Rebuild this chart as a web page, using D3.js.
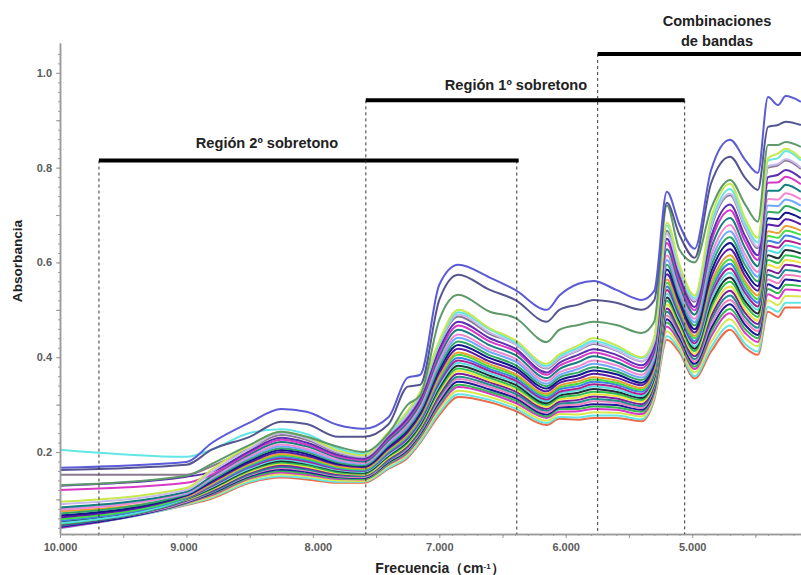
<!DOCTYPE html>
<html>
<head>
<meta charset="utf-8">
<script src="https://cdnjs.cloudflare.com/ajax/libs/d3/7.8.5/d3.min.js"></script>
<style>
  body { margin: 0; background: #fff; }
  text { font-family: "Liberation Sans", Arial, sans-serif; }
</style>
</head>
<body>
<div id="chart"></div>
<script>
var wavenumbers = [10000,9000,8800,8500,8250,8050,7800,7600,7400,7250,7150,7000,6850,6600,6400,6150,6050,5900,5780,5600,5400,5300,5200,5100,4980,4850,4700,4580,4480,4400,4320,4260,4140];

var spectra = [
  [.042,.088,.102,.135,.146,.142,.135,.135,.165,.188,.220,.278,.316,.305,.287,.257,.270,.268,.272,.272,.265,.310,.437,.410,.355,.412,.458,.420,.405,.496,.485,.505,.505],
  [.039,.089,.104,.137,.149,.145,.137,.137,.167,.191,.223,.283,.322,.310,.292,.261,.274,.273,.277,.277,.269,.314,.445,.416,.360,.421,.467,.428,.412,.506,.496,.515,.515],
  [.041,.091,.106,.141,.153,.149,.140,.139,.171,.195,.228,.290,.329,.316,.298,.266,.280,.279,.284,.283,.275,.319,.455,.423,.368,.432,.480,.440,.423,.520,.510,.529,.528],
  [.040,.092,.109,.144,.157,.152,.143,.142,.174,.199,.232,.296,.337,.323,.304,.272,.285,.286,.291,.289,.280,.325,.465,.431,.375,.444,.493,.451,.432,.533,.524,.543,.541],
  [.045,.093,.111,.146,.160,.155,.145,.143,.176,.202,.235,.301,.342,.327,.309,.275,.290,.291,.296,.294,.285,.329,.473,.437,.380,.453,.502,.459,.440,.544,.535,.553,.550],
  [.042,.094,.113,.149,.163,.158,.147,.145,.179,.205,.239,.306,.348,.332,.314,.279,.294,.296,.301,.299,.289,.333,.480,.442,.386,.461,.512,.468,.447,.554,.545,.564,.560],
  [.050,.095,.115,.151,.166,.161,.149,.147,.181,.208,.242,.311,.354,.337,.318,.283,.298,.300,.307,.304,.293,.337,.488,.448,.391,.470,.521,.476,.455,.564,.556,.574,.570],
  [.044,.097,.116,.153,.169,.163,.151,.149,.183,.211,.245,.316,.359,.342,.323,.287,.302,.305,.312,.308,.297,.341,.496,.454,.396,.479,.530,.484,.462,.574,.567,.584,.580],
  [.046,.098,.118,.156,.172,.166,.153,.151,.186,.214,.249,.321,.365,.347,.328,.291,.306,.310,.317,.313,.301,.345,.503,.459,.402,.487,.540,.493,.470,.584,.577,.595,.590],
  [.060,.099,.120,.158,.175,.169,.155,.152,.188,.217,.252,.326,.371,.351,.333,.295,.311,.315,.322,.318,.306,.349,.511,.465,.407,.496,.549,.501,.477,.595,.588,.605,.599],
  [.048,.100,.122,.161,.178,.172,.157,.154,.191,.220,.255,.331,.376,.356,.337,.299,.315,.320,.327,.323,.310,.353,.519,.471,.413,.505,.559,.510,.485,.605,.599,.615,.609],
  [.052,.101,.124,.163,.181,.175,.160,.156,.193,.223,.258,.336,.382,.361,.342,.303,.319,.325,.333,.327,.314,.357,.526,.477,.418,.513,.568,.518,.492,.615,.609,.626,.619],
  [.050,.102,.126,.165,.184,.177,.162,.158,.195,.226,.262,.341,.388,.366,.347,.307,.323,.330,.338,.332,.318,.361,.534,.482,.423,.522,.578,.526,.500,.625,.620,.636,.629],
  [.065,.103,.128,.168,.187,.180,.164,.160,.198,.229,.265,.346,.393,.371,.351,.311,.327,.334,.343,.337,.322,.365,.542,.488,.429,.531,.587,.535,.507,.635,.631,.646,.638],
  [.055,.104,.130,.170,.190,.183,.166,.161,.200,.232,.268,.351,.399,.375,.356,.315,.332,.339,.348,.342,.327,.369,.549,.494,.434,.540,.597,.543,.515,.646,.641,.657,.648],
  [.058,.105,.132,.173,.193,.186,.168,.163,.203,.235,.272,.356,.405,.380,.361,.319,.336,.344,.353,.346,.331,.373,.557,.499,.440,.548,.606,.552,.522,.656,.652,.667,.658],
  [.075,.106,.133,.175,.196,.189,.170,.165,.205,.238,.275,.360,.410,.385,.365,.323,.340,.349,.358,.351,.335,.377,.564,.505,.445,.557,.615,.560,.530,.666,.662,.677,.667],
  [.062,.108,.136,.178,.200,.192,.173,.168,.208,.242,.279,.367,.418,.391,.372,.328,.346,.355,.365,.357,.341,.383,.575,.513,.452,.569,.628,.571,.540,.680,.677,.691,.680],
  [.066,.109,.139,.181,.204,.196,.175,.170,.211,.246,.284,.374,.426,.398,.378,.334,.351,.362,.372,.364,.346,.388,.585,.520,.459,.580,.641,.582,.550,.693,.691,.705,.693],
  [.070,.111,.141,.185,.208,.200,.178,.172,.215,.250,.288,.380,.433,.404,.384,.339,.357,.368,.379,.370,.352,.394,.595,.528,.467,.592,.653,.594,.560,.707,.705,.719,.707],
  [.080,.112,.144,.188,.212,.203,.181,.175,.218,.254,.293,.387,.441,.411,.391,.344,.362,.375,.386,.376,.357,.399,.605,.535,.474,.603,.666,.605,.570,.720,.719,.733,.720],
  [.078,.114,.146,.191,.216,.207,.184,.177,.221,.258,.297,.394,.448,.417,.397,.350,.368,.381,.393,.383,.363,.404,.615,.543,.481,.615,.679,.616,.580,.734,.733,.746,.733],
  [.083,.116,.149,.195,.221,.212,.188,.180,.225,.263,.303,.402,.458,.425,.405,.356,.375,.390,.402,.390,.370,.411,.628,.552,.490,.630,.694,.630,.592,.751,.751,.764,.749],
  [.120,.135,.152,.199,.226,.216,.191,.183,.229,.268,.308,.410,.467,.433,.413,.363,.382,.398,.410,.398,.377,.418,.641,.562,.499,.644,.710,.644,.605,.768,.769,.781,.765],
  [.129,.148,.158,.202,.230,.220,.194,.186,.232,.272,.312,.417,.475,.440,.418,.368,.388,.405,.417,.405,.383,.423,.650,.570,.506,.654,.722,.655,.615,.780,.785,.795,.778],
  [.152,.152,.170,.207,.236,.226,.198,.189,.237,.278,.319,.427,.486,.449,.428,.376,.396,.414,.428,.414,.391,.432,.667,.581,.517,.673,.742,.672,.630,.800,.805,.815,.797],
  [.090,.120,.158,.207,.240,.229,.200,.190,.238,.280,.321,.428,.490,.452,.428,.378,.398,.415,.430,.415,.392,.433,.660,.583,.520,.677,.745,.675,.633,.803,.808,.818,.800],
  [.205,.190,.205,.240,.248,.238,.207,.196,.240,.285,.325,.430,.495,.458,.432,.382,.402,.420,.434,.420,.398,.439,.678,.590,.525,.682,.755,.682,.642,.815,.820,.835,.815],
  [.095,.124,.163,.213,.243,.232,.203,.193,.243,.287,.327,.435,.500,.461,.436,.386,.406,.425,.440,.425,.400,.441,.684,.595,.530,.694,.766,.692,.652,.820,.830,.840,.820],
  [.130,.150,.175,.215,.243,.232,.211,.200,.240,.300,.320,.479,.532,.496,.483,.432,.458,.468,.475,.468,.451,.475,.720,.627,.600,.714,.774,.722,.686,.848,.848,.854,.844],
  [.162,.173,.205,.232,.264,.259,.232,.232,.259,.338,.342,.521,.574,.542,.521,.475,.500,.511,.521,.515,.500,.520,.726,.658,.610,.767,.823,.778,.753,.886,.890,.897,.890],
  [.167,.179,.219,.262,.291,.285,.257,.249,.274,.357,.363,.553,.595,.568,.542,.500,.530,.555,.561,.542,.521,.540,.749,.679,.629,.795,.859,.816,.789,.949,.932,.951,.939]
];

var colours = ["#ee6a4a","#63e6e6","#d8e84a","#d838c8","#35b84f","#1a1a9a","#f080c0","#1f8f8f","#7a1fa0","#f0e040","#2fbf4f","#20303a","#55dde0","#b01f90","#3f7fe8","#44dd44","#e8a030","#5a1aa8","#14148c","#30a860","#6fa8ff","#f08ad0","#128080","#d838c8","#5c2fb0","#8a7a90","#c9b8f0","#63e6e6","#c7e84f","#5f9a6a","#55558f","#5b5bd6"];

var yTicks = [0.2,0.4,0.6,0.8,1.0];
var xTicks = [10000,9000,8000,7000,6000,5000];

// name, wavenumber range, absorbance height of the black bar
var regionNames = ["Región 2º sobretono","Región 1º sobretono","Combinaciones de bandas"];
var regionFrom = [9692,7581,5747];
var regionTo = [6387,5059,4139];
var regionBarTo = [6372,5059,4139];
var regionLevel = [0.815,0.942,1.04];

var width = 801,
    height = 575;

var svg = d3.select("#chart")
    .append("svg")
    .attr("width", width)
    .attr("height", height)
    .style("display", "block");

var x = d3.scaleLinear().domain([10000,4139]).range([60,801]);
var y = d3.scaleLinear().domain([0.027,1.063]).range([534,43]);

var line = d3.line()
    .x(function(d,i){ return x(wavenumbers[i]); })
    .y(function(d){ return y(d); })
    .curve(d3.curveMonotoneX);

// spectra
svg.append("g")
    .style("filter", "blur(0.6px)")
    .selectAll("path")
    .data(spectra)
    .enter().append("path")
    .attr("d", line)
    .attr("fill", "none")
    .attr("stroke", function(d,i){ return colours[i]; })
    .attr("stroke-width", 2);

// axes
var dotted = d3.formatLocale({decimal:",", thousands:".", grouping:[3], currency:["",""]}).format(",");

function styleAxis(g) {
    g.selectAll("path, line").attr("stroke", "#9a9a9a");
    g.select(".domain").attr("stroke-width", 1.5);
    g.selectAll("text")
        .attr("fill", "#5c5c5c")
        .style("font-size", "11px")
        .style("font-weight", "bold");
}

var minorX = d3.range(10000,4100,-100);
var minorY = d3.range(0.04,1.06,0.02);

svg.append("g")
    .attr("transform", "translate(0,534)")
    .call(d3.axisBottom(x).tickValues(minorX).tickSize(2).tickFormat("").tickSizeOuter(0))
    .call(styleAxis);
svg.append("g")
    .attr("transform", "translate(0,534)")
    .call(d3.axisBottom(x).tickValues(d3.range(10000,4100,-500)).tickSize(4).tickFormat(function(d){ return xTicks.indexOf(d) < 0 ? "" : dotted(d); }).tickSizeOuter(0))
    .call(styleAxis)
    .selectAll("text")
    .attr("y", 9)
    .attr("dx", function(d){ return d == 9000 ? -3 : d == 8000 ? 5 : 0; });

svg.append("g")
    .attr("transform", "translate(60,0)")
    .call(d3.axisLeft(y).tickValues(minorY).tickSize(2).tickFormat("").tickSizeOuter(0))
    .call(styleAxis);
svg.append("g")
    .attr("transform", "translate(60,0)")
    .call(d3.axisLeft(y).tickValues(yTicks.concat([0.1,0.3,0.5,0.7,0.9])).tickSize(4).tickFormat(function(d){ return yTicks.indexOf(d) < 0 ? "" : d.toFixed(1); }).tickSizeOuter(0))
    .call(styleAxis)
    .selectAll("text").attr("x", -8);

// regions: dashed limits and thick bars
regionNames.forEach(function(name,i){
    var bar = y(regionLevel[i]);
    [regionFrom[i], regionTo[i]].forEach(function(w){
        if (w <= 4139) return;
        svg.append("line")
            .attr("x1", x(w)).attr("x2", x(w))
            .attr("y1", bar).attr("y2", 534)
            .attr("stroke", "#333")
            .attr("stroke-dasharray", "3,3");
    });
    svg.append("line")
        .attr("x1", x(regionFrom[i])).attr("x2", x(regionBarTo[i]))
        .attr("y1", bar).attr("y2", bar)
        .attr("stroke", "#000")
        .attr("stroke-width", 4);
});

function label(txt, px, py, size) {
    return svg.append("text")
        .attr("x", px).attr("y", py)
        .attr("text-anchor", "middle")
        .attr("fill", "#222")
        .style("font-size", size + "px")
        .style("font-weight", "bold")
        .text(txt);
}

label(regionNames[0], 267, 148, 14.6);
label(regionNames[1], 516, 90, 14.6);
label("Combinaciones", 717, 26, 14.6);
label("de bandas", 717, 46, 14.6);

label("Absorbancia", 0, 0, 13.6).attr("transform", "translate(22,261) rotate(-90)");

var xTitle = label("Frecuencia（cm", 440, 573, 14);
xTitle.append("tspan").attr("dy", -4).style("font-size", "8px").text("-1");
xTitle.append("tspan").attr("dy", 4).text("）");
</script>
</body>
</html>
